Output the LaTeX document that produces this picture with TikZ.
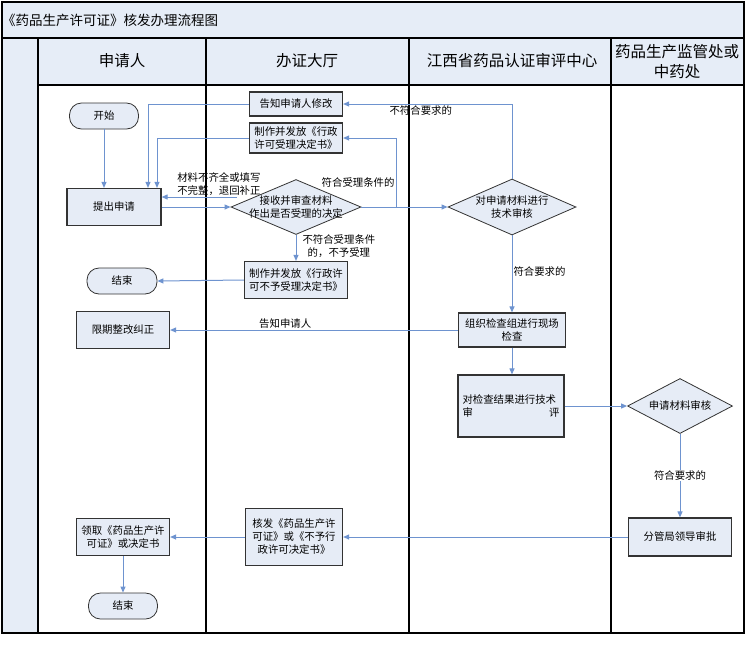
\documentclass[tikz,border=0pt]{standalone}
\usepackage{fontspec}
\setmainfont{Noto Sans CJK SC}
\usetikzlibrary{arrows.meta,positioning,shapes.geometric}
\definecolor{lanefill}{HTML}{E6EDF7}
\definecolor{boxfill}{HTML}{E6ECF6}
\definecolor{boxline}{HTML}{333333}
\definecolor{linkblue}{HTML}{6E93CF}

\begin{document}
\begin{tikzpicture}[x=1pt,y=-1pt,>={Triangle[length=6pt,width=5pt]},
    box node/.style={rectangle,draw=boxline,fill=boxfill,line width=1.2pt,
      minimum width=93pt,minimum height=37pt,inner sep=1pt,align=center,
      font=\fontsize{10.4}{13}\selectfont},
    term node/.style={box node,rounded corners=12pt,minimum width=69pt,
      minimum height=26pt,line width=0.8pt},
    dec node/.style={diamond,draw=boxline,fill=boxfill,line width=0.8pt,
      minimum width=130pt,minimum height=55pt,inner sep=0pt},
    dec text/.style={align=center,font=\fontsize{10.4}{13}\selectfont},
    link/.style={->,draw=linkblue,line width=1pt},
    link label/.style={font=\fontsize{10.4}{13}\selectfont,inner sep=1pt,align=left}]

    % lanes
    \useasboundingbox (0,0) rectangle (754,646);
    \fill[lanefill] (2,2) rectangle (744,38);
    \fill[lanefill] (2,38) rectangle (38,633);
    \fill[lanefill] (38,38) rectangle (744,85);
    \draw[line width=1.3pt] (2,2) rectangle (744,633);
    \draw[line width=1.3pt] (2,38) -- (744,38);
    \draw[line width=1.3pt] (38,85) -- (744,85);
    \foreach \x in {38,206,409,611}
      \draw[line width=1.3pt] (\x,38) -- (\x,633);

    \node[anchor=west,inner sep=0pt,font=\fontsize{13.5}{15}\selectfont] (title) at (2,20) {《药品生产许可证》核发办理流程图};
    \node[font=\fontsize{15.5}{18}\selectfont] (lane1) at (122,61) {申请人};
    \node[font=\fontsize{15.5}{18}\selectfont] (lane2) at (307,61) {办证大厅};
    \node[font=\fontsize{15.5}{18}\selectfont] (lane3) at (512,61) {江西省药品认证审评中心};
    \node[font=\fontsize{15.5}{20}\selectfont,align=center] (lane4) at (677,62) {药品生产监管处或\\中药处};

    % steps
    \node[term node] (start) at (104,116) {开始};
    \node[box node,minimum width=94pt] (apply) at (114,207) {提出申请};
    \node[box node,minimum height=24pt] (notify) at (296,104) {告知申请人修改};
    \node[box node,minimum height=30pt] (issue) at (296,138) {制作并发放《行政\\许可受理决定书》};
    \node[dec node,label={[dec text]center:{接收并审查材料\\作出是否受理的决定}}] (check) at (296,207) {};
    \node[dec node,minimum width=128pt,minimum height=56pt,label={[dec text]center:{对申请材料进行\\技术审核}}] (tech) at (512,207) {};
    \node[box node,minimum width=103pt] (reject) at (296,280) {制作并发放《行政许\\可不予受理决定书》};
    \node[term node,minimum width=70pt] (end1) at (122,281) {结束};
    \node[box node] (rectify) at (123,330) {限期整改纠正};
    \node[box node,minimum width=107pt,minimum height=34pt] (inspect) at (512,330) {组织检查组进行现场\\检查};
    \node[box node,minimum width=106pt,minimum height=62pt,text width=97pt,align=left] (review) at (511,406) {对检查结果进行技术\\审\hfill 评};
    \node[dec node,minimum width=105pt,label={[dec text]center:{申请材料审核}}] (audit) at (680,406) {};
    \node[box node,minimum width=103pt,minimum height=38pt] (leader) at (680,537) {分管局领导审批};
    \node[box node,minimum width=97pt,minimum height=57pt] (permit) at (294,537) {核发《药品生产许\\可证》或《不予行\\政许可决定书》};
    \node[box node] (collect) at (123,537) {领取《药品生产许\\可证》或决定书};
    \node[term node] (end2) at (123,606) {结束};

    % connectors
    \coordinate (back) at (237,197);
    \coordinate (accept) at (396,207);
    \draw[link] (start) -- (start |- apply.north);
    \draw[link] (apply.east) -- (check.west);
    \draw[link] (back) -- node[link label,above,pos=0.24] {材料不齐全或填写\\不完整，退回补正} (back -| apply.east);
    \draw[link] (check.east) -- (tech.west);
    \draw[link] (accept) |- node[link label,left,pos=0.18] {符合受理条件的} (issue.east);
    \draw[link] (tech.north) |- node[link label,below,pos=0.77] {不符合要求的} (notify.east);
    \draw[link] (notify.west) -| ([xshift=34pt]apply.north);
    \draw[link] (issue.west) -| ([xshift=43pt]apply.north);
    \draw[link] (check.south) -- node[link label,align=center,right=5pt,pos=0.45] {不符合受理条件\\的，不予受理} (reject.north);
    \draw[link] (reject.west) -- (end1.east);
    \draw[link] (inspect.west) -- node[link label,above,pos=0.6] {告知申请人} (rectify.east);
    \draw[link] (tech.south) -- node[link label,right,pos=0.47] {符合要求的} (inspect.north);
    \draw[link] (inspect.south) -- (inspect.south |- review.north);
    \draw[link] (review.east) -- (audit.west);
    \draw[link] (audit.south) -- node[link label,fill=white,pos=0.5] {符合要求的} (leader.north);
    \draw[link] (leader.west) -- (permit.east);
    \draw[link] (permit.west) -- (collect.east);
    \draw[link] (collect.south) -- (end2.north);
\end{tikzpicture}
\end{document}
